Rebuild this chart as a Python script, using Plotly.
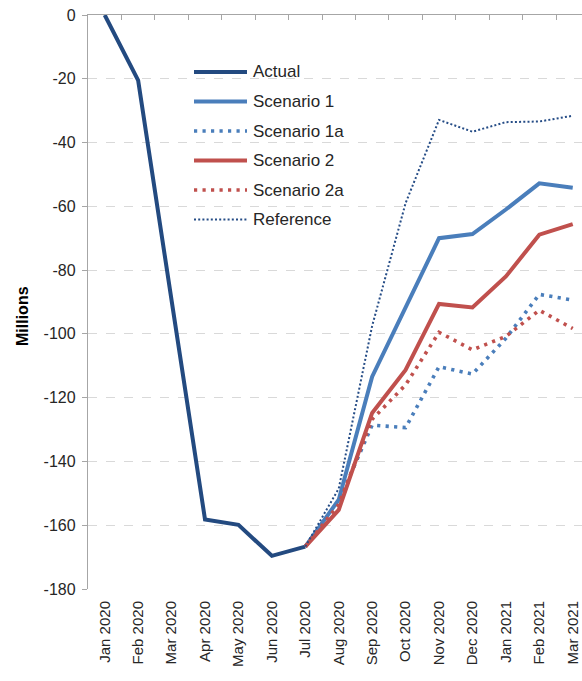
import plotly.graph_objects as go

months = ["Jan 2020", "Feb 2020", "Mar 2020", "Apr 2020", "May 2020", "Jun 2020",
          "Jul 2020", "Aug 2020", "Sep 2020", "Oct 2020", "Nov 2020", "Dec 2020",
          "Jan 2021", "Feb 2021", "Mar 2021"]

actual = [0, -20.5, -89.5, -158.2, -159.9, -169.6, -166.7,
          None, None, None, None, None, None, None, None]
scenario1 = [None, None, None, None, None, None, -166.7,
             -152.0, -113.4, -91.4, -70.0, -68.7, -61.0, -52.8, -54.2]
scenario1a = [None, None, None, None, None, None, -166.7,
              -152.5, -128.6, -129.4, -110.3, -112.6, -101.4, -87.6, -89.4]
scenario2 = [None, None, None, None, None, None, -166.7,
             -155.2, -124.8, -111.3, -90.6, -91.7, -82.0, -68.9, -65.6]
scenario2a = [None, None, None, None, None, None, -166.7,
              -153.5, -126.8, -116.0, -99.5, -105.0, -100.8, -92.6, -98.3]
reference = [None, None, None, None, None, None, -166.7,
             -148.5, -97.5, -59.0, -32.9, -36.6, -33.6, -33.4, -31.6]

y_ticks = list(range(-180, 1, 20))
y_tick_labels = [str(v) for v in y_ticks]

W, H = 582, 681
ML, MR, MT, MB = 88, 0, 15, 92
PW, PH = W - ML - MR, H - MT - MB
SPACING = 33.43
x_lo = -0.5
x_hi = x_lo + PW / SPACING

FONT = "Liberation Sans"
TXT = "#262626"
AXC = "#A6A6A6"

c_actual = "#234A80"
c_s1 = "#4A7EBB"
c_s2 = "#C0504D"
c_ref = "#254C86"

series = [
    ("Actual", actual, dict(color=c_actual, width=4)),
    ("Scenario 1", scenario1, dict(color=c_s1, width=4)),
    ("Scenario 1a", scenario1a, dict(color=c_s1, width=3.6, dash="3.2px,5.3px")),
    ("Scenario 2", scenario2, dict(color=c_s2, width=4)),
    ("Scenario 2a", scenario2a, dict(color=c_s2, width=3.6, dash="3.2px,5.3px")),
    ("Reference", reference, dict(color=c_ref, width=2, dash="2px,2.2px")),
]

fig = go.Figure()
xs = list(range(len(months)))
for name, vals, line in series:
    fig.add_trace(go.Scatter(x=xs, y=vals, name=name, mode="lines", line=line,
                             showlegend=False, connectgaps=False))

# dummy trace for the top (zero) axis with category boundary ticks
fig.add_trace(go.Scatter(x=[], y=[], xaxis="x2", showlegend=False, hoverinfo="skip"))

def px2paper(px, py):
    return (px - ML) / PW, (MT + PH - py) / PH

shapes = []
annotations = []
leg_rows = [72, 101.5, 131, 160.5, 190, 219.5]
for (name, vals, line), ry in zip(series, leg_rows):
    x0, y0 = px2paper(194, ry)
    x1, _ = px2paper(247, ry)
    shapes.append(dict(type="line", xref="paper", yref="paper", x0=x0, x1=x1, y0=y0, y1=y0,
                       line=dict(color=line["color"], width=line["width"],
                                 dash=line.get("dash", "solid"))))
    tx, ty = px2paper(251, ry)
    annotations.append(dict(xref="paper", yref="paper", x=tx, y=ty, text=name,
                            showarrow=False, xanchor="left", yanchor="middle",
                            font=dict(family=FONT, size=17, color=TXT)))

mx, my = px2paper(22, 316)
annotations.append(dict(xref="paper", yref="paper", x=mx, y=my, text="<b>Millions</b>",
                        textangle=-90, showarrow=False, xanchor="center", yanchor="middle",
                        font=dict(family=FONT, size=16, color="#000000")))

fig.update_layout(
    width=W, height=H,
    margin=dict(l=ML, r=MR, t=MT, b=MB, pad=0, autoexpand=False),
    paper_bgcolor="white", plot_bgcolor="white",
    font=dict(family=FONT, size=15, color=TXT),
    xaxis=dict(range=[x_lo, x_hi], tickvals=xs, ticktext=months, tickangle=-90,
               showline=False, showgrid=False, zeroline=False, ticks="",
               ticklabelstandoff=8, automargin=False,
               tickfont=dict(family=FONT, size=15, color=TXT)),
    xaxis2=dict(range=[x_lo, x_hi], overlaying="x", side="top", showline=True,
                linecolor=AXC, linewidth=1.3, ticks="inside", ticklen=5,
                tickcolor=AXC, tickwidth=1.3, automargin=False,
                tickvals=[i + 0.5 for i in range(len(months) - 1)],
                showticklabels=False, showgrid=False, zeroline=False),
    yaxis=dict(range=[-180, 0], tickvals=y_ticks, ticktext=y_tick_labels,
               showline=True, linecolor=AXC, automargin=False,
               linewidth=1.3, ticks="outside", ticklen=5, tickcolor=AXC, tickwidth=1.3,
               ticklabelstandoff=3,
               showgrid=True, gridcolor="#D9D9D9", griddash="dash", gridwidth=1,
               zeroline=False, tickfont=dict(family=FONT, size=16, color=TXT)),
    shapes=shapes,
    annotations=annotations,
)

fig.write_html("out.html", config={"displayModeBar": False},
               post_script="document.body.style.margin='0';document.body.style.padding='0';")
